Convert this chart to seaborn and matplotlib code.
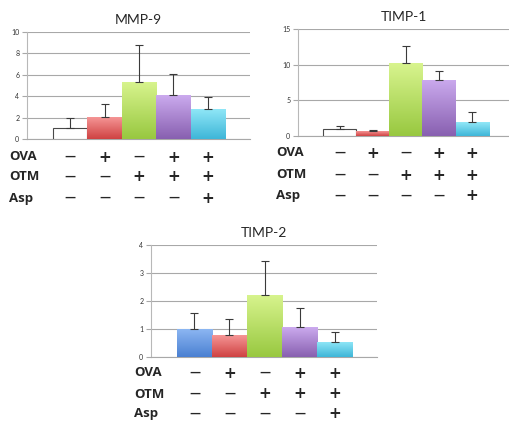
import numpy as np
import pandas as pd
import matplotlib
matplotlib.use("Agg")
import matplotlib.pyplot as plt
import seaborn as sns
from matplotlib.colors import LinearSegmentedColormap

sns.set_style("white")
plt.rcParams['font.family'] = ['Lato', 'DejaVu Sans']

# ---- data ----
groups = ["G1", "G2", "G3", "G4", "G5"]
mmp9_mean = [1.0, 2.05, 5.35, 4.1, 2.85]
mmp9_err_top = [1.95, 3.3, 8.8, 6.05, 3.9]
timp1_mean = [1.0, 0.7, 10.2, 7.9, 1.95]
timp1_err_top = [1.4, 0.8, 12.55, 9.15, 3.3]
timp2_mean = [1.0, 0.78, 2.22, 1.06, 0.54]
timp2_err_top = [1.57, 1.35, 3.42, 1.74, 0.91]

row_labels = ["OVA", "OTM", "Asp"]
ova_signs = ["-", "+", "-", "+", "+"]
otm_signs = ["-", "-", "+", "+", "+"]
asp_signs = ["-", "-", "-", "-", "+"]

mmp9_ticks = [0, 2, 4, 6, 8, 10]
timp1_ticks = [0, 5, 10, 15]
timp2_ticks = [0, 1, 2, 3, 4]

# gradient colours (top, bottom)
grad_white = None
grad_blue = ("#8cb6f2", "#4a80d2")
grad_red = ("#f59595", "#cf4242")
grad_green = ("#d8f48e", "#98c840")
grad_purple = ("#cbaaee", "#8860b0")
grad_cyan = ("#92e8f8", "#3eb6d8")

W, H = 509, 422
fig = plt.figure(figsize=(W / 100, H / 100), dpi=100)


def make_panel(rect, title, means, tops, ticks, ylim, xlim, grads, label_x, row_offsets):
    ax = fig.add_axes(rect)
    df = pd.DataFrame({"group": groups, "value": means})
    sns.barplot(data=df, x="group", y="value", ax=ax, width=1.0,
                color="white", saturation=1, errorbar=None, zorder=3)
    # gradients
    for patch, g in zip(ax.patches, grads):
        if g is None:
            patch.set_facecolor("white")
            patch.set_edgecolor("#4a4a4a")
            patch.set_linewidth(0.8)
            continue
        patch.set_facecolor(g[1])
        patch.set_edgecolor("none")
        cmap = LinearSegmentedColormap.from_list("g", [g[1], g[0]])
        x0 = patch.get_x()
        x1 = x0 + patch.get_width()
        y0 = patch.get_y()
        y1 = y0 + patch.get_height()
        grad = np.linspace(0, 1, 100).reshape(-1, 1)
        im = ax.imshow(grad, cmap=cmap, origin="lower", aspect="auto",
                       extent=[x0, x1, y0, y1], zorder=3.5, interpolation="bicubic")
        im.set_clip_path(patch)
    # error bars (upper only)
    xs = [p.get_x() + p.get_width() / 2 for p in ax.patches]
    upper = np.array(tops) - np.array(means)
    ax.errorbar(xs, means, yerr=[np.zeros(len(means)), upper], fmt="none",
                ecolor="#3a3a3a", elinewidth=0.8, capsize=2.8, capthick=0.8, zorder=4)
    ax.set_xlim(*xlim)
    ax.set_ylim(*ylim)
    ax.set_yticks(ticks)
    ax.set_yticklabels([str(t) for t in ticks], fontsize=5, color="#333333")
    ax.set_xticks([])
    ax.set_xlabel("")
    ax.set_ylabel("")
    ax.grid(axis="y", color="#a8a8a8", linewidth=0.8, zorder=0)
    ax.set_axisbelow(True)
    ax.tick_params(axis="y", length=3.5, width=0.8, color="#a8a8a8", pad=2, left=True)
    for s in ["top", "right"]:
        ax.spines[s].set_visible(False)
    ax.spines["left"].set_color("#b8b8b8")
    ax.spines["left"].set_linewidth(0.8)
    ax.spines["bottom"].set_color("#a8a8a8")
    ax.spines["bottom"].set_linewidth(0.8)
    ax.set_title(title, fontsize=10, pad=6)
    # sign rows
    bottom_px = (1 - rect[1]) * H
    for lab, signs, off in zip(row_labels, [ova_signs, otm_signs, asp_signs], row_offsets):
        yf = 1 - (bottom_px + off) / H
        fig.text(label_x / W, yf, lab, fontsize=9.5, fontweight="bold",
                 ha="left", va="center", family=["Open Sans", "DejaVu Sans"])
        for x, s in zip(xs, signs):
            xf = ax.transData.transform((x, 0))[0] / W
            if s == "+":
                fig.text(xf, yf, "+", fontsize=11, fontweight="bold", ha="center",
                         va="center", family=["DejaVu Sans"])
            else:
                fig.text(xf, yf, "\u2014", fontsize=8, fontweight="bold", ha="center",
                         va="center", family=["DejaVu Sans"])
    return ax


make_panel([27 / W, 1 - 139 / H, 223 / W, 107 / H], "MMP-9", mmp9_mean, mmp9_err_top,
           mmp9_ticks, (0, 10), (-1.25, 5.22),
           [grad_white, grad_red, grad_green, grad_purple, grad_cyan], 9, [18, 38, 59])

make_panel([298 / W, 1 - 136 / H, 211 / W, 107 / H], "TIMP-1", timp1_mean, timp1_err_top,
           timp1_ticks, (0, 15), (-1.27, 5.12),
           [grad_white, grad_red, grad_green, grad_purple, grad_cyan], 276, [17, 39, 60])

make_panel([151 / W, 1 - 357 / H, 226 / W, 112 / H], "TIMP-2", timp2_mean, timp2_err_top,
           timp2_ticks, (0, 4), (-1.24, 5.21),
           [grad_blue, grad_red, grad_green, grad_purple, grad_cyan], 134, [16, 37, 57])

fig.savefig("out.png", dpi=100, facecolor="white")
